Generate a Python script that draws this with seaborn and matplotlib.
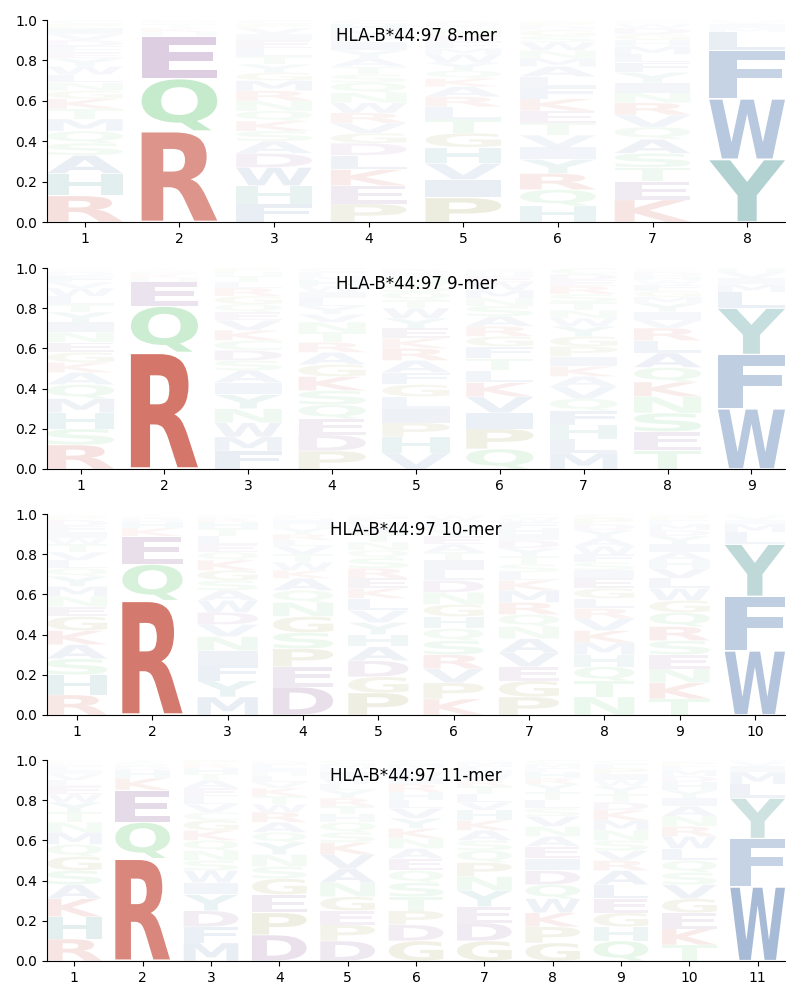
import matplotlib
matplotlib.use("Agg")
import matplotlib.pyplot as plt
import seaborn as sns
from matplotlib.textpath import TextPath
from matplotlib.patches import PathPatch
from matplotlib.font_manager import FontProperties
from matplotlib.transforms import Affine2D

sns.set_style("ticks", {"axes.edgecolor": "black", "text.color": "black",
                        "xtick.color": "black", "ytick.color": "black",
                        "axes.labelcolor": "black"})
plt.rcParams['font.family'] = ['DejaVu Sans']

ALLELE = "HLA-B*44:97"
LENGTHS = [8, 9, 10, 11]

# ---- data: per position, residues and their frequencies ----
mer8_letters = [
    "RHASQMTKGNLWYEFDVIPC",
    "RQEHKTSD",
    "FHWDASKQNRMGYTLEIVPC",
    "PEKLDGVRWNQSTAYIFMHC",
    "PIVHGTLRAKQYWMFENSDC",
    "HQRYIVTEKFLAMNWSGDPC",
    "KETSAQVRNIYFLMHGDWPC",
    "YWFLMIVH",
]
mer8_freqs = [
    [.13, .11, .09, .06, .06, .06, .05, .05, .04, .04, .04, .04, .04, .03, .03, .03, .03, .03, .02, .02],
    [.45, .26, .21, .02, .02, .02, .01, .01],
    [.09, .09, .09, .07, .06, .05, .05, .05, .05, .05, .05, .04, .04, .04, .04, .04, .03, .03, .02, .02],
    [.09, .09, .08, .07, .06, .05, .05, .05, .05, .05, .05, .04, .04, .04, .04, .04, .03, .03, .03, .02],
    [.12, .09, .08, .08, .07, .07, .06, .05, .05, .04, .04, .04, .04, .03, .03, .03, .03, .02, .02, .01],
    [.08, .08, .08, .07, .06, .06, .06, .06, .06, .06, .05, .05, .04, .04, .04, .03, .03, .02, .02, .01],
    [.11, .09, .07, .07, .07, .06, .06, .06, .05, .05, .05, .05, .04, .04, .03, .03, .03, .02, .01, .01],
    [.31, .30, .24, .09, .02, .02, .01, .01],
]

mer9_letters = [
    "RSHMQAKGENIYTLWVFDPC",
    "RQEHKDST",
    "FMWNYIASDCKVEQGRLTHP",
    "PDEQSKGARTNVYLIWHMFC",
    "VHPILGFARKEYWTQSNMDC",
    "QPIVKLTFGRASNMWEHDC",
    "MLHFQVAKIPGYWNTSREDC",
    "TESNKQALRVIYMGFWHDPC",
    "WFYLMIVH",
]
mer9_freqs = [
    [.12, .08, .08, .07, .07, .06, .05, .05, .05, .05, .05, .05, .04, .04, .04, .03, .03, .02, .01, .01],
    [.58, .23, .12, .02, .02, .01, .01, .01],
    [.09, .07, .07, .07, .07, .06, .06, .05, .05, .05, .05, .05, .04, .04, .04, .04, .03, .03, .02, .02],
    [.09, .08, .08, .07, .07, .07, .06, .06, .05, .05, .05, .04, .04, .04, .03, .03, .03, .02, .02, .02],
    [.08, .08, .07, .07, .06, .06, .06, .06, .06, .05, .05, .05, .05, .04, .04, .04, .03, .02, .02, .01],
    [.10, .10, .08, .08, .07, .06, .06, .06, .05, .05, .05, .05, .04, .04, .04, .03, .02, .01, .01],
    [.08, .07, .07, .07, .06, .06, .05, .05, .05, .05, .05, .05, .04, .04, .04, .04, .04, .03, .03, .03],
    [.09, .09, .09, .08, .07, .07, .07, .06, .06, .04, .04, .04, .03, .03, .03, .02, .02, .02, .01, .01],
    [.30, .27, .23, .08, .04, .03, .03, .02],
]

mer10_letters = [
    "RHSAKGENMYQLVTWIFDPC",
    "RQEKHDST",
    "MYFINVDWASGKQELTHRPC",
    "DEPSGNQAKWTVLRYHIMFC",
    "PGDAHYVLKERSQNTIWFMC",
    "KPVRSQHGNDLITAEYMFWC",
    "PGEVANQRMKLSTYDIHFWC",
    "NTQHMKVRLGEISFWAYDPC",
    "TKNESRQGWLVHAIYDMFPC",
    "WFYLMIVH",
]
mer10_freqs = [
    [.10, .10, .08, .07, .07, .07, .05, .05, .05, .05, .04, .04, .04, .04, .03, .03, .03, .03, .02, .01],
    [.57, .18, .14, .04, .03, .02, .01, .01],
    [.09, .08, .08, .07, .07, .06, .06, .06, .05, .05, .05, .05, .04, .04, .04, .04, .03, .02, .01, .01],
    [.14, .10, .09, .08, .08, .07, .06, .06, .04, .04, .04, .04, .03, .03, .03, .02, .02, .01, .01, .01],
    [.11, .08, .08, .07, .06, .06, .06, .06, .05, .05, .05, .05, .04, .04, .04, .03, .03, .02, .01, .01],
    [.08, .08, .07, .07, .07, .06, .06, .06, .06, .06, .05, .05, .04, .04, .04, .03, .03, .02, .02, .01],
    [.09, .08, .07, .07, .07, .06, .06, .06, .06, .05, .04, .04, .04, .04, .04, .03, .03, .03, .02, .02],
    [.09, .08, .07, .06, .06, .06, .06, .05, .05, .05, .05, .04, .04, .04, .04, .04, .04, .03, .03, .02],
    [.08, .08, .07, .07, .07, .07, .07, .06, .06, .05, .05, .04, .04, .04, .04, .03, .03, .02, .02, .01],
    [.32, .27, .26, .06, .04, .02, .02, .01],
]

mer11_letters = [
    "RHKASGQMNTYWELVIFDPC",
    "RQEKHDST",
    "MFDYIWSNQKGCVLEATHRP",
    "DPEGSNYQARWTKVLHIFMC",
    "DPEGNAVKSQHTRYLWIFMC",
    "GDPTSQEANKYVLHRIWFMC",
    "GDEYNPQSAKHVLTRWIFMC",
    "GPKWQDIEANVSLTYRHFMC",
    "QHGELARVSNMKDTYWIPFC",
    "TKEGVSQLWRNAIYHDMFPC",
    "WFYLMIVH",
]
mer11_freqs = [
    [.11, .11, .09, .07, .07, .07, .06, .06, .05, .05, .05, .04, .04, .03, .03, .02, .02, .01, .01, .01],
    [.51, .18, .16, .06, .04, .02, .02, .01],
    [.09, .08, .08, .08, .06, .06, .05, .05, .05, .05, .05, .04, .04, .04, .04, .04, .03, .03, .02, .02],
    [.13, .11, .09, .08, .06, .06, .06, .05, .05, .05, .04, .04, .04, .03, .03, .02, .02, .02, .01, .01],
    [.10, .08, .07, .07, .07, .07, .07, .06, .05, .05, .04, .04, .04, .04, .03, .03, .03, .02, .02, .02],
    [.10, .08, .07, .07, .07, .06, .06, .05, .05, .05, .05, .05, .04, .04, .04, .03, .03, .02, .02, .02],
    [.10, .09, .08, .08, .07, .07, .06, .05, .05, .05, .05, .04, .04, .04, .03, .03, .02, .02, .02, .01],
    [.09, .08, .07, .07, .07, .07, .06, .06, .05, .05, .05, .04, .04, .04, .04, .03, .03, .02, .02, .02],
    [.10, .07, .07, .07, .07, .07, .05, .05, .05, .05, .05, .05, .04, .04, .04, .03, .03, .03, .02, .02],
    [.08, .08, .08, .07, .07, .06, .06, .06, .06, .05, .05, .05, .04, .04, .04, .03, .03, .02, .02, .01],
    [.37, .24, .20, .07, .06, .03, .02, .01],
]

PANELS = [
    (mer8_letters, mer8_freqs),
    (mer9_letters, mer9_freqs),
    (mer10_letters, mer10_freqs),
    (mer11_letters, mer11_freqs),
]

# ---- residue colour groups ----
GROUP_COLORS = {
    "basic": (202 / 255, 87 / 255, 72 / 255),
    "acidic": (141 / 255, 93 / 255, 155 / 255),
    "polar": (100 / 255, 200 / 255, 115 / 255),
    "hydrophobic": (86 / 255, 125 / 255, 177 / 255),
    "aromatic": (78 / 255, 153 / 255, 150 / 255),
    "special": (150 / 255, 150 / 255, 70 / 255),
}
RESIDUE_GROUP = {
    "K": "basic", "R": "basic",
    "D": "acidic", "E": "acidic",
    "S": "polar", "T": "polar", "N": "polar", "Q": "polar", "C": "polar",
    "A": "hydrophobic", "V": "hydrophobic", "L": "hydrophobic", "I": "hydrophobic",
    "M": "hydrophobic", "F": "hydrophobic", "W": "hydrophobic",
    "Y": "aromatic", "H": "aromatic",
    "G": "special", "P": "special",
}

FP = FontProperties(family="DejaVu Sans", weight="bold")
_glyphs = {}


def glyph(ch):
    if ch not in _glyphs:
        _glyphs[ch] = TextPath((0, 0), ch, size=1, prop=FP)
    return _glyphs[ch]


def draw_letter(ax, ch, x, y0, h, color, alpha, width=0.8, vpad=0.03):
    p = glyph(ch)
    bb = p.get_extents()
    hh = h * (1 - vpad)
    yb = y0 + h * vpad / 2
    t = (Affine2D().translate(-bb.x0, -bb.y0)
         .scale(width / bb.width, hh / bb.height)
         .translate(x - width / 2, yb))
    ax.add_patch(PathPatch(t.transform_path(p), facecolor=color,
                           edgecolor="none", alpha=alpha, zorder=2))


fig = plt.figure(figsize=(8, 10), dpi=100)
positions = [(0.05875, 0.778, 0.9225, 0.202),
             (0.05875, 0.531, 0.9225, 0.201),
             (0.05875, 0.285, 0.9225, 0.201),
             (0.05875, 0.039, 0.9225, 0.201)]

for (letters, freqs), L, pos in zip(PANELS, LENGTHS, positions):
    ax = fig.add_axes(pos)
    for i, (lets, fr) in enumerate(zip(letters, freqs)):
        x = i + 1
        total = sum(fr)
        pairs = sorted(zip(lets, fr), key=lambda p: -p[1])
        y = 0.0
        for ch, f in pairs:
            h = f / total
            col = GROUP_COLORS[RESIDUE_GROUP[ch]]
            alpha = min(1.0, 1.4 * h)
            draw_letter(ax, ch, x, y, h, col, alpha)
            y += h
    ax.set_xlim(0.6, L + 0.4)
    ax.set_ylim(0, 1)
    ax.set_xticks(range(1, L + 1))
    ax.set_yticks([0, 0.2, 0.4, 0.6, 0.8, 1.0])
    ax.tick_params(labelsize=10, colors="black")
    ax.text(0.5, 0.92, f"{ALLELE} {L}-mer", transform=ax.transAxes,
            ha="center", va="center", fontsize=12, color="black", zorder=5)
    sns.despine(ax=ax)

fig.savefig("out.png", dpi=100)
